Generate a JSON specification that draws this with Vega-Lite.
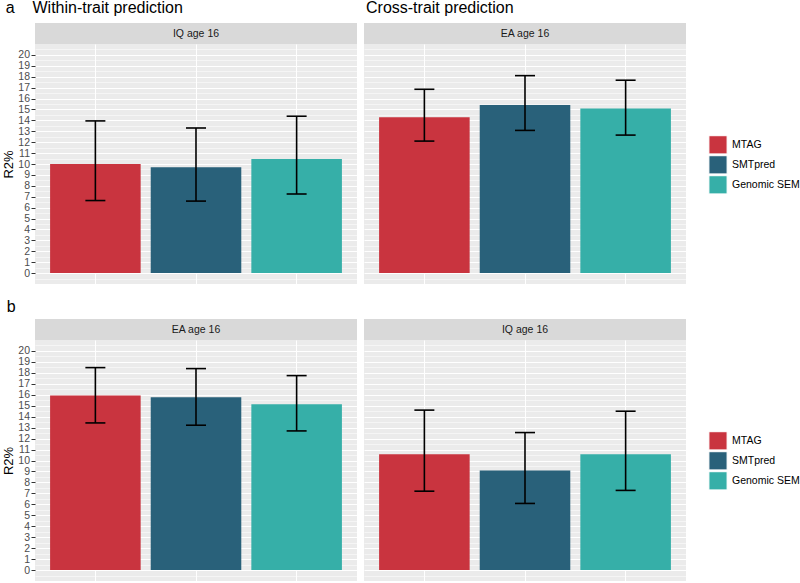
{
  "$schema": "https://vega.github.io/schema/vega-lite/v6.json",
  "padding": {"left": 2, "top": 0, "right": 2, "bottom": 0},
  "config": {
    "font": "Liberation Sans",
    "title": {"fontSize": 16, "fontWeight": "normal", "color": "#000000", "anchor": "start", "frame": "bounds"},
    "view": {"stroke": null}
  },
  "datasets": {
    "r2": [
      {"row": "a", "col": 1, "method": "MTAG", "r2": 10.0, "lo": 6.65, "hi": 13.95},
      {"row": "a", "col": 1, "method": "SMTpred", "r2": 9.7, "lo": 6.6, "hi": 13.3},
      {"row": "a", "col": 1, "method": "Genomic SEM", "r2": 10.46, "lo": 7.25, "hi": 14.38},
      {"row": "a", "col": 2, "method": "MTAG", "r2": 14.28, "lo": 12.1, "hi": 16.85},
      {"row": "a", "col": 2, "method": "SMTpred", "r2": 15.4, "lo": 13.08, "hi": 18.1},
      {"row": "a", "col": 2, "method": "Genomic SEM", "r2": 15.08, "lo": 12.65, "hi": 17.68},
      {"row": "b", "col": 1, "method": "MTAG", "r2": 15.93, "lo": 13.43, "hi": 18.48},
      {"row": "b", "col": 1, "method": "SMTpred", "r2": 15.77, "lo": 13.22, "hi": 18.39},
      {"row": "b", "col": 1, "method": "Genomic SEM", "r2": 15.13, "lo": 12.7, "hi": 17.75},
      {"row": "b", "col": 2, "method": "MTAG", "r2": 10.57, "lo": 7.2, "hi": 14.6},
      {"row": "b", "col": 2, "method": "SMTpred", "r2": 9.09, "lo": 6.08, "hi": 12.55},
      {"row": "b", "col": 2, "method": "Genomic SEM", "r2": 10.57, "lo": 7.27, "hi": 14.5}
    ],
    "strips": [
      {"row": "a", "col": 1, "label": "IQ age 16"},
      {"row": "a", "col": 2, "label": "EA age 16"},
      {"row": "b", "col": 1, "label": "EA age 16"},
      {"row": "b", "col": 2, "label": "IQ age 16"}
    ]
  },
  "resolve": {"scale": {"color": "independent"}},
  "spacing": 15,
  "vconcat": [
    {
      "spacing": 7,
      "hconcat": [
        {
          "title": {"text": "a\u00a0\u00a0\u00a0\u00a0Within-trait prediction", "offset": 7, "dx": 3},
          "spacing": 0,
          "vconcat": [
            {
              "width": 322, "height": 21,
              "view": {"fill": "#D9D9D9", "stroke": null},
              "data": {"name": "strips"},
              "transform": [{"filter": "datum.row === 'a' && datum.col === 1"}],
              "mark": {"type": "text", "fontSize": 10.5, "color": "#1A1A1A"},
              "encoding": {"text": {"field": "label", "type": "nominal"}}
            },
            {
              "width": 322, "height": 240,
              "view": {"fill": "#EBEBEB", "stroke": null},
              "data": {"name": "r2"},
              "transform": [{"filter": "datum.row === 'a' && datum.col === 1"}],
              "encoding": {
                "x": {"field": "method", "type": "nominal", "sort": ["MTAG", "SMTpred", "Genomic SEM"],
                  "scale": {"paddingInner": 0.1, "paddingOuter": 0.15},
                  "axis": {"labels": false, "ticks": false, "domain": false, "title": null, "grid": true, "gridColor": "#FFFFFF", "gridWidth": 1.07, "bandPosition": 0.5}}
              },
              "resolve": {"axis": {"y": "independent"}},
              "layer": [
                {
                  "mark": {"type": "bar"},
                  "encoding": {
                    "y": {"field": "r2", "type": "quantitative", "scale": {"domain": [-1, 21], "nice": false, "zero": false},
                      "axis": {"title": "R2%", "values": [0, 1, 2, 3, 4, 5, 6, 7, 8, 9, 10, 11, 12, 13, 14, 15, 16, 17, 18, 19, 20],
                        "grid": true, "gridColor": "#FFFFFF", "gridWidth": 1.07,
                        "domain": false, "tickColor": "#333333", "tickSize": 4,
                        "labelFontSize": 10.5, "labelColor": "#4D4D4D", "labelPadding": 1.5, "labelOverlap": false, "labelFlush": false,
                        "titleFontSize": 13, "titleFontWeight": "normal", "titleColor": "#000000", "titlePadding": 2}},
                    "y2": {"datum": 0},
                    "color": {"field": "method", "type": "nominal",
                      "scale": {"domain": ["MTAG", "SMTpred", "Genomic SEM"], "range": ["#C9343F", "#29617A", "#36AFA8"]},
                      "legend": {"title": null, "orient": "none", "legendX": 673, "legendY": 112, "symbolType": "square", "symbolSize": 330, "symbolStrokeColor": "#FFFFFF", "symbolStrokeWidth": 1, "symbolOpacity": 1, "labelFontSize": 10.5, "labelColor": "#000000", "labelOffset": 4, "rowPadding": 0, "clipHeight": 19.6}}
                  }
                },
                {"mark": {"type": "rule", "color": "#000000", "strokeWidth": 1.6}, "encoding": {"y": {"field": "lo", "type": "quantitative",
                  "axis": {"title": null, "labels": false, "ticks": false, "domain": false, "grid": true, "gridColor": "#FFFFFF", "gridWidth": 0.53, "values": [-0.5, 0.5, 1.5, 2.5, 3.5, 4.5, 5.5, 6.5, 7.5, 8.5, 9.5, 10.5, 11.5, 12.5, 13.5, 14.5, 15.5, 16.5, 17.5, 18.5, 19.5, 20.5]}}, "y2": {"field": "hi"}}},
                {"mark": {"type": "tick", "color": "#000000", "thickness": 1.6, "size": 20, "opacity": 1}, "encoding": {"y": {"field": "lo", "type": "quantitative", "axis": null}}},
                {"mark": {"type": "tick", "color": "#000000", "thickness": 1.6, "size": 20, "opacity": 1}, "encoding": {"y": {"field": "hi", "type": "quantitative", "axis": null}}}
              ]
            }
          ]
        },
        {
          "title": {"text": "Cross-trait prediction", "offset": 7, "dx": 2},
          "spacing": 0,
          "vconcat": [
            {
              "width": 322, "height": 21,
              "view": {"fill": "#D9D9D9", "stroke": null},
              "data": {"name": "strips"},
              "transform": [{"filter": "datum.row === 'a' && datum.col === 2"}],
              "mark": {"type": "text", "fontSize": 10.5, "color": "#1A1A1A"},
              "encoding": {"text": {"field": "label", "type": "nominal"}}
            },
            {
              "width": 322, "height": 240,
              "view": {"fill": "#EBEBEB", "stroke": null},
              "data": {"name": "r2"},
              "transform": [{"filter": "datum.row === 'a' && datum.col === 2"}],
              "encoding": {
                "x": {"field": "method", "type": "nominal", "sort": ["MTAG", "SMTpred", "Genomic SEM"],
                  "scale": {"paddingInner": 0.1, "paddingOuter": 0.15},
                  "axis": {"labels": false, "ticks": false, "domain": false, "title": null, "grid": true, "gridColor": "#FFFFFF", "gridWidth": 1.07, "bandPosition": 0.5}}
              },
              "resolve": {"axis": {"y": "independent"}},
              "layer": [
                {
                  "mark": {"type": "bar"},
                  "encoding": {
                    "y": {"field": "r2", "type": "quantitative", "scale": {"domain": [-1, 21], "nice": false, "zero": false},
                      "axis": {"title": null, "labels": false, "ticks": false, "domain": false, "values": [0, 1, 2, 3, 4, 5, 6, 7, 8, 9, 10, 11, 12, 13, 14, 15, 16, 17, 18, 19, 20],
                        "grid": true, "gridColor": "#FFFFFF", "gridWidth": 1.07}},
                    "y2": {"datum": 0},
                    "color": {"field": "method", "type": "nominal",
                      "scale": {"domain": ["MTAG", "SMTpred", "Genomic SEM"], "range": ["#C9343F", "#29617A", "#36AFA8"]},
                      "legend": {"title": null, "orient": "none", "legendX": 673, "legendY": 112, "symbolType": "square", "symbolSize": 330, "symbolStrokeColor": "#FFFFFF", "symbolStrokeWidth": 1, "symbolOpacity": 1, "labelFontSize": 10.5, "labelColor": "#000000", "labelOffset": 4, "rowPadding": 0, "clipHeight": 19.6}}
                  }
                },
                {"mark": {"type": "rule", "color": "#000000", "strokeWidth": 1.6}, "encoding": {"y": {"field": "lo", "type": "quantitative",
                  "axis": {"title": null, "labels": false, "ticks": false, "domain": false, "grid": true, "gridColor": "#FFFFFF", "gridWidth": 0.53, "values": [-0.5, 0.5, 1.5, 2.5, 3.5, 4.5, 5.5, 6.5, 7.5, 8.5, 9.5, 10.5, 11.5, 12.5, 13.5, 14.5, 15.5, 16.5, 17.5, 18.5, 19.5, 20.5]}}, "y2": {"field": "hi"}}},
                {"mark": {"type": "tick", "color": "#000000", "thickness": 1.6, "size": 20, "opacity": 1}, "encoding": {"y": {"field": "lo", "type": "quantitative", "axis": null}}},
                {"mark": {"type": "tick", "color": "#000000", "thickness": 1.6, "size": 20, "opacity": 1}, "encoding": {"y": {"field": "hi", "type": "quantitative", "axis": null}}}
              ]
            }
          ]
        }
      ]
    },
    {
      "title": {"text": "b", "offset": 4, "dx": 4},
      "spacing": 7,
      "hconcat": [
        {
          "spacing": 0,
          "vconcat": [
            {
              "width": 322, "height": 21,
              "view": {"fill": "#D9D9D9", "stroke": null},
              "data": {"name": "strips"},
              "transform": [{"filter": "datum.row === 'b' && datum.col === 1"}],
              "mark": {"type": "text", "fontSize": 10.5, "color": "#1A1A1A"},
              "encoding": {"text": {"field": "label", "type": "nominal"}}
            },
            {
              "width": 322, "height": 241,
              "view": {"fill": "#EBEBEB", "stroke": null},
              "data": {"name": "r2"},
              "transform": [{"filter": "datum.row === 'b' && datum.col === 1"}],
              "encoding": {
                "x": {"field": "method", "type": "nominal", "sort": ["MTAG", "SMTpred", "Genomic SEM"],
                  "scale": {"paddingInner": 0.1, "paddingOuter": 0.15},
                  "axis": {"labels": false, "ticks": false, "domain": false, "title": null, "grid": true, "gridColor": "#FFFFFF", "gridWidth": 1.07, "bandPosition": 0.5}}
              },
              "resolve": {"axis": {"y": "independent"}},
              "layer": [
                {
                  "mark": {"type": "bar"},
                  "encoding": {
                    "y": {"field": "r2", "type": "quantitative", "scale": {"domain": [-1, 21], "nice": false, "zero": false},
                      "axis": {"title": "R2%", "values": [0, 1, 2, 3, 4, 5, 6, 7, 8, 9, 10, 11, 12, 13, 14, 15, 16, 17, 18, 19, 20],
                        "grid": true, "gridColor": "#FFFFFF", "gridWidth": 1.07,
                        "domain": false, "tickColor": "#333333", "tickSize": 4,
                        "labelFontSize": 10.5, "labelColor": "#4D4D4D", "labelPadding": 1.5, "labelOverlap": false, "labelFlush": false,
                        "titleFontSize": 13, "titleFontWeight": "normal", "titleColor": "#000000", "titlePadding": 2}},
                    "y2": {"datum": 0},
                    "color": {"field": "method", "type": "nominal",
                      "scale": {"domain": ["MTAG", "SMTpred", "Genomic SEM"], "range": ["#C9343F", "#29617A", "#36AFA8"]},
                      "legend": {"title": null, "orient": "none", "legendX": 673, "legendY": 112, "symbolType": "square", "symbolSize": 330, "symbolStrokeColor": "#FFFFFF", "symbolStrokeWidth": 1, "symbolOpacity": 1, "labelFontSize": 10.5, "labelColor": "#000000", "labelOffset": 4, "rowPadding": 0, "clipHeight": 19.6}}
                  }
                },
                {"mark": {"type": "rule", "color": "#000000", "strokeWidth": 1.6}, "encoding": {"y": {"field": "lo", "type": "quantitative",
                  "axis": {"title": null, "labels": false, "ticks": false, "domain": false, "grid": true, "gridColor": "#FFFFFF", "gridWidth": 0.53, "values": [-0.5, 0.5, 1.5, 2.5, 3.5, 4.5, 5.5, 6.5, 7.5, 8.5, 9.5, 10.5, 11.5, 12.5, 13.5, 14.5, 15.5, 16.5, 17.5, 18.5, 19.5, 20.5]}}, "y2": {"field": "hi"}}},
                {"mark": {"type": "tick", "color": "#000000", "thickness": 1.6, "size": 20, "opacity": 1}, "encoding": {"y": {"field": "lo", "type": "quantitative", "axis": null}}},
                {"mark": {"type": "tick", "color": "#000000", "thickness": 1.6, "size": 20, "opacity": 1}, "encoding": {"y": {"field": "hi", "type": "quantitative", "axis": null}}}
              ]
            }
          ]
        },
        {
          "spacing": 0,
          "vconcat": [
            {
              "width": 322, "height": 21,
              "view": {"fill": "#D9D9D9", "stroke": null},
              "data": {"name": "strips"},
              "transform": [{"filter": "datum.row === 'b' && datum.col === 2"}],
              "mark": {"type": "text", "fontSize": 10.5, "color": "#1A1A1A"},
              "encoding": {"text": {"field": "label", "type": "nominal"}}
            },
            {
              "width": 322, "height": 241,
              "view": {"fill": "#EBEBEB", "stroke": null},
              "data": {"name": "r2"},
              "transform": [{"filter": "datum.row === 'b' && datum.col === 2"}],
              "encoding": {
                "x": {"field": "method", "type": "nominal", "sort": ["MTAG", "SMTpred", "Genomic SEM"],
                  "scale": {"paddingInner": 0.1, "paddingOuter": 0.15},
                  "axis": {"labels": false, "ticks": false, "domain": false, "title": null, "grid": true, "gridColor": "#FFFFFF", "gridWidth": 1.07, "bandPosition": 0.5}}
              },
              "resolve": {"axis": {"y": "independent"}},
              "layer": [
                {
                  "mark": {"type": "bar"},
                  "encoding": {
                    "y": {"field": "r2", "type": "quantitative", "scale": {"domain": [-1, 21], "nice": false, "zero": false},
                      "axis": {"title": null, "labels": false, "ticks": false, "domain": false, "values": [0, 1, 2, 3, 4, 5, 6, 7, 8, 9, 10, 11, 12, 13, 14, 15, 16, 17, 18, 19, 20],
                        "grid": true, "gridColor": "#FFFFFF", "gridWidth": 1.07}},
                    "y2": {"datum": 0},
                    "color": {"field": "method", "type": "nominal",
                      "scale": {"domain": ["MTAG", "SMTpred", "Genomic SEM"], "range": ["#C9343F", "#29617A", "#36AFA8"]},
                      "legend": {"title": null, "orient": "none", "legendX": 673, "legendY": 112, "symbolType": "square", "symbolSize": 330, "symbolStrokeColor": "#FFFFFF", "symbolStrokeWidth": 1, "symbolOpacity": 1, "labelFontSize": 10.5, "labelColor": "#000000", "labelOffset": 4, "rowPadding": 0, "clipHeight": 19.6}}
                  }
                },
                {"mark": {"type": "rule", "color": "#000000", "strokeWidth": 1.6}, "encoding": {"y": {"field": "lo", "type": "quantitative",
                  "axis": {"title": null, "labels": false, "ticks": false, "domain": false, "grid": true, "gridColor": "#FFFFFF", "gridWidth": 0.53, "values": [-0.5, 0.5, 1.5, 2.5, 3.5, 4.5, 5.5, 6.5, 7.5, 8.5, 9.5, 10.5, 11.5, 12.5, 13.5, 14.5, 15.5, 16.5, 17.5, 18.5, 19.5, 20.5]}}, "y2": {"field": "hi"}}},
                {"mark": {"type": "tick", "color": "#000000", "thickness": 1.6, "size": 20, "opacity": 1}, "encoding": {"y": {"field": "lo", "type": "quantitative", "axis": null}}},
                {"mark": {"type": "tick", "color": "#000000", "thickness": 1.6, "size": 20, "opacity": 1}, "encoding": {"y": {"field": "hi", "type": "quantitative", "axis": null}}}
              ]
            }
          ]
        }
      ]
    }
  ]
}
